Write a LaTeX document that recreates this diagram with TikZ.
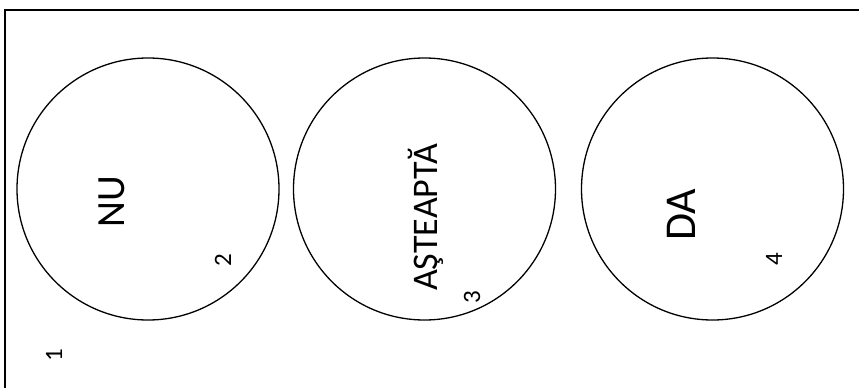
\documentclass[tikz,border=0pt]{standalone}
\usepackage{fontspec}
\setmainfont{Carlito}
\usepackage{tikz}

\begin{document}
\begin{tikzpicture}[
      x=1pt, y=-1pt,
      stateDisc/.style={draw, circle, line width=1.3pt, minimum size=262pt, inner sep=0pt},
      stateWord/.style={rotate=90, anchor=base, inner sep=0pt},
      cornerNum/.style={rotate=90, anchor=base, inner sep=0pt,
        font=\fontsize{25}{25}\selectfont}
    ]
    \clip (0,0) rectangle (859,388);
    \draw[line width=2.2pt] (5,10) rectangle (900,420);
    % the three answers
    \node[stateDisc] (nuDisc) at (148,189) {};
    \node[stateDisc] (waitDisc) at (424.5,189) {};
    \node[stateDisc] (daDisc) at (712.5,189) {};
    \node[stateWord, font=\fontsize{40}{40}\selectfont] (nuWord) at (124,201.5) {NU};
    \node[stateWord, font=\fontsize{36}{36}\selectfont] (waitWord) at (437,217.5) {AŞTEAPTĂ};
    \node[stateWord, font=\fontsize{44}{44}\selectfont] (daWord) at (695,215) {DA};
    % numbering
    \node[cornerNum] (numOne) at (62,355) {1};
    \node[cornerNum] (numTwo) at (231,260) {2};
    \node[cornerNum] (numThree) at (480,297) {3};
    \node[cornerNum] (numFour) at (782,259) {4};
  \end{tikzpicture}
\end{document}
